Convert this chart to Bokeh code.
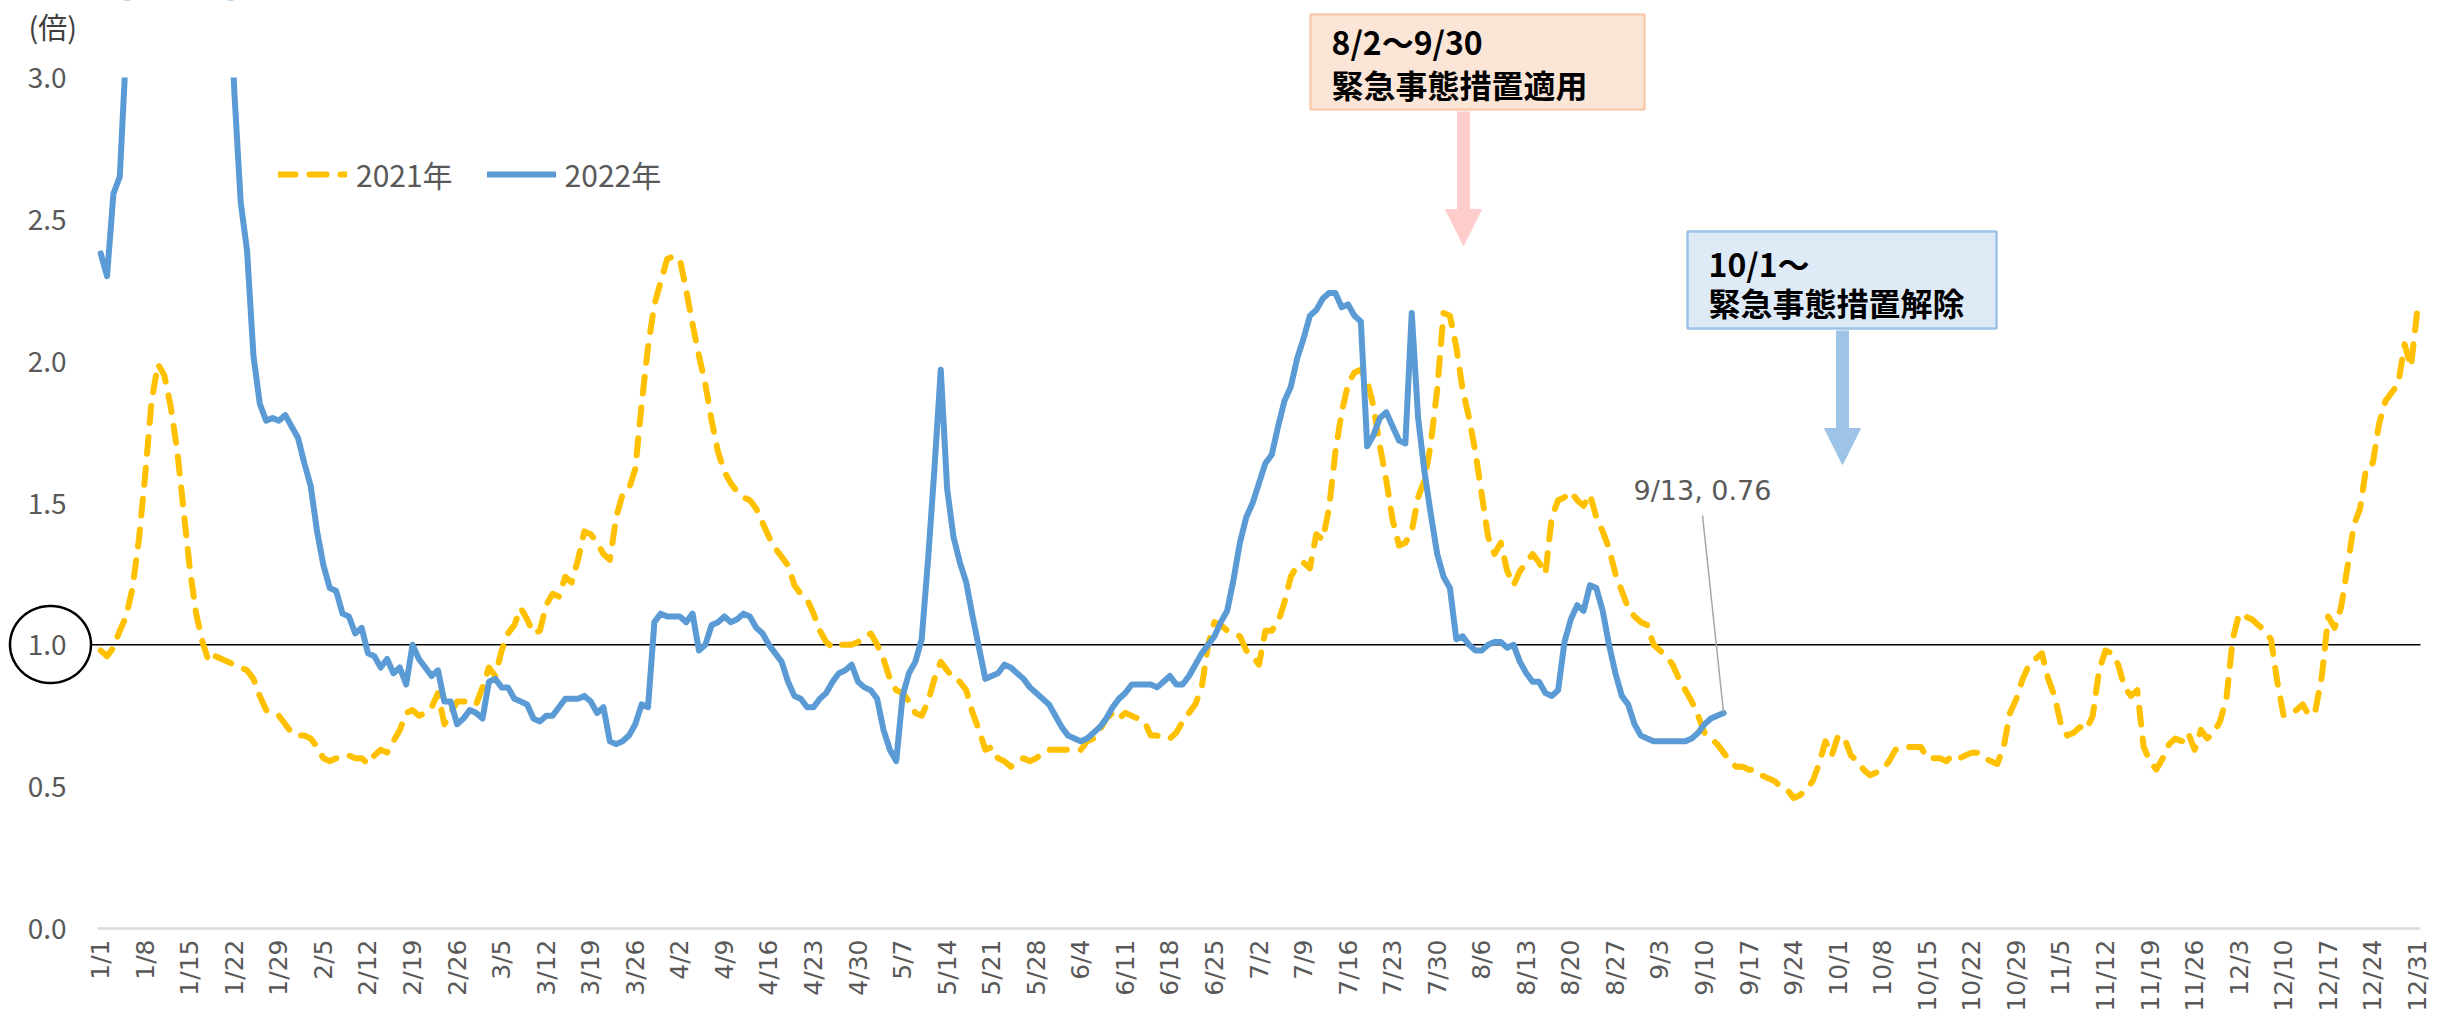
import numpy as np
from bokeh.plotting import figure
from bokeh.models import (ColumnDataSource, Legend, LegendItem, Label, PolyAnnotation, Arrow,
                          NormalHead)
from bokeh.core.properties import value
from bokeh.embed import file_html
from bokeh.resources import INLINE

# ---------------- data ----------------
TICK_LABELS = ["1/1", "1/8", "1/15", "1/22", "1/29", "2/5", "2/12", "2/19", "2/26", "3/5", "3/12",
               "3/19", "3/26", "4/2", "4/9", "4/16", "4/23", "4/30", "5/7", "5/14", "5/21", "5/28",
               "6/4", "6/11", "6/18", "6/25", "7/2", "7/9", "7/16", "7/23", "7/30", "8/6", "8/13",
               "8/20", "8/27", "9/3", "9/10", "9/17", "9/24", "10/1", "10/8", "10/15", "10/22",
               "10/29", "11/5", "11/12", "11/19", "11/26", "12/3", "12/10", "12/17", "12/24", "12/31"]
TICK_DAYS = list(range(0, 365, 7))

Y_TICKS = [0.0, 0.5, 1.0, 1.5, 2.0, 2.5, 3.0]
Y_TICK_LABELS = ["0.0", "0.5", "1.0", "1.5", "2.0", "2.5", "3.0"]

NAN = float("nan")

# 2021 daily values (1/1 .. 12/31)
R2021 = [
    # Jan
    0.98, 0.96, 0.99, 1.05, 1.10, 1.20, 1.37, 1.60, 1.86, 1.99, 1.95, 1.84, 1.69, 1.48, 1.27, 1.11,
    1.01, 0.94, 0.96, 0.95, 0.94, 0.93, 0.92, 0.91, 0.88, 0.82, 0.77, 0.76, 0.75, 0.72, 0.69,
    # Feb
    0.68, 0.68, 0.67, 0.64, 0.60, 0.59, 0.60, 0.60, 0.61, 0.60, 0.60, 0.58, 0.61, 0.63, 0.62, 0.66,
    0.70, 0.76, 0.77, 0.75, 0.76, 0.78, 0.83, 0.72, 0.76, 0.80, 0.80, 0.80,
    # Mar
    0.79, 0.85, 0.92, 0.89, 0.98, 1.04, 1.07, 1.13, 1.09, 1.04, 1.05, 1.14, 1.18, 1.17, 1.24, 1.22,
    1.30, 1.40, 1.39, 1.36, 1.32, 1.30, 1.45, 1.53, 1.55, 1.62, 1.85, 2.05, 2.20, 2.28, 2.36,
    # Apr
    2.37, 2.36, 2.25, 2.13, 2.02, 1.92, 1.79, 1.68, 1.61, 1.57, 1.54, 1.52, 1.51, 1.48, 1.43, 1.38,
    1.34, 1.31, 1.28, 1.21, 1.18, 1.16, 1.11, 1.05, 1.01, 0.99, 1.00, 1.00, 1.00, 1.01,
    # May
    1.03, 1.04, 1.00, 0.95, 0.88, 0.84, 0.83, 0.80, 0.76, 0.75, 0.80, 0.88, 0.94, 0.91, 0.88, 0.87,
    0.84, 0.76, 0.70, 0.63, 0.64, 0.60, 0.59, 0.57, 0.59, 0.60, 0.59, 0.60, 0.62, 0.63, 0.63,
    # Jun
    0.63, 0.63, 0.63, 0.63, 0.66, 0.67, 0.70, 0.74, 0.76, 0.74, 0.76, 0.75, 0.74, 0.73, 0.68, 0.68,
    0.67, 0.67, 0.69, 0.73, 0.76, 0.79, 0.85, 1.00, 1.08, 1.07, 1.05, 1.04, 1.03, 0.98,
    # Jul
    0.96, 0.93, 1.05, 1.05, 1.08, 1.15, 1.24, 1.28, 1.29, 1.27, 1.39, 1.37, 1.48, 1.68, 1.82, 1.92,
    1.96, 1.97, 1.93, 1.84, 1.70, 1.58, 1.44, 1.35, 1.36, 1.40, 1.52, 1.58, 1.71, 1.90, 2.17,
    # Aug
    2.16, 2.05, 1.90, 1.80, 1.68, 1.53, 1.38, 1.32, 1.36, 1.26, 1.21, 1.26, 1.29, 1.32, 1.29, 1.25,
    1.45, 1.51, 1.52, 1.54, 1.51, 1.49, 1.53, 1.45, 1.40, 1.34, 1.25, 1.19, 1.13, 1.10, 1.08,
    # Sep
    1.07, 1.00, 0.98, 0.96, 0.93, 0.88, 0.84, 0.80, 0.75, 0.69, 0.67, 0.65, 0.62, 0.59, 0.57, 0.57,
    0.56, 0.56, 0.54, 0.53, 0.52, 0.50, 0.49, 0.46, 0.47, 0.49, 0.52, 0.58, 0.66, 0.61,
    # Oct
    0.68, 0.67, 0.61, 0.59, 0.56, 0.54, 0.55, 0.56, 0.59, 0.63, 0.64, 0.64, 0.64, 0.64, 0.60, 0.60,
    0.60, 0.59, 0.61, 0.60, 0.61, 0.62, 0.62, 0.60, 0.59, 0.58, 0.64, 0.76, 0.81, 0.88, 0.93,
    # Nov
    0.95, 0.97, 0.88, 0.82, 0.72, 0.68, 0.69, 0.71, 0.70, 0.75, 0.91, 0.98, 0.97, 0.93, 0.85, 0.82,
    0.84, 0.64, 0.59, 0.56, 0.60, 0.65, 0.67, 0.66, 0.69, 0.63, 0.70, 0.67, 0.69, 0.73,
    # Dec
    0.81, 1.02, 1.11, 1.10, 1.09, 1.07, 1.05, 1.02, 0.87, 0.75, 0.76, 0.77, 0.79, 0.75, 0.77, 0.89,
    1.10, 1.06, 1.13, 1.27, 1.42, 1.48, 1.63, 1.64, 1.78, 1.86, 1.89, 1.92, 2.06, 1.98, 2.18,
]

# 2022 daily values (1/1 .. 9/13); values above the 3.0 axis limit could not be read
R2022 = [
    # Jan
    2.38, 2.30, 2.59, 2.65, 3.10, 4.00, NAN, NAN, NAN, NAN, NAN, NAN, NAN, NAN, NAN, NAN,
    NAN, NAN, NAN, NAN, 3.50, 2.95, 2.56, 2.39, 2.02, 1.85, 1.79, 1.80, 1.79, 1.81, 1.77,
    # Feb
    1.73, 1.64, 1.56, 1.40, 1.28, 1.20, 1.19, 1.11, 1.10, 1.04, 1.06, 0.97, 0.96, 0.92, 0.95, 0.90,
    0.92, 0.86, 1.00, 0.95, 0.92, 0.89, 0.91, 0.80, 0.80, 0.72, 0.74, 0.77,
    # Mar
    0.76, 0.74, 0.87, 0.88, 0.85, 0.85, 0.81, 0.80, 0.79, 0.74, 0.73, 0.75, 0.75, 0.78, 0.81, 0.81,
    0.81, 0.82, 0.80, 0.76, 0.78, 0.66, 0.65, 0.66, 0.68, 0.72, 0.79, 0.78, 1.08, 1.11, 1.10,
    # Apr
    1.10, 1.10, 1.08, 1.11, 0.98, 1.00, 1.07, 1.08, 1.10, 1.08, 1.09, 1.11, 1.10, 1.06, 1.04, 1.00,
    0.97, 0.94, 0.87, 0.82, 0.81, 0.78, 0.78, 0.81, 0.83, 0.87, 0.90, 0.91, 0.93, 0.87,
    # May
    0.85, 0.84, 0.81, 0.70, 0.63, 0.59, 0.82, 0.90, 0.94, 1.02, 1.30, 1.62, 1.97, 1.55, 1.38, 1.29,
    1.22, 1.10, 0.99, 0.88, 0.89, 0.90, 0.93, 0.92, 0.90, 0.88, 0.85, 0.83, 0.81, 0.79, 0.75,
    # Jun
    0.71, 0.68, 0.67, 0.66, 0.67, 0.69, 0.71, 0.74, 0.78, 0.81, 0.83, 0.86, 0.86, 0.86, 0.86, 0.85,
    0.87, 0.89, 0.86, 0.86, 0.89, 0.93, 0.97, 1.00, 1.03, 1.08, 1.12, 1.23, 1.36, 1.45,
    # Jul
    1.50, 1.57, 1.64, 1.67, 1.77, 1.86, 1.91, 2.01, 2.08, 2.16, 2.18, 2.22, 2.24, 2.24, 2.19, 2.20,
    2.16, 2.14, 1.70, 1.74, 1.80, 1.82, 1.77, 1.72, 1.71, 2.17, 1.80, 1.61, 1.46, 1.32, 1.24,
    # Aug
    1.20, 1.02, 1.03, 1.00, 0.98, 0.98, 1.00, 1.01, 1.01, 0.99, 1.00, 0.94, 0.90, 0.87, 0.87, 0.83,
    0.82, 0.84, 1.01, 1.09, 1.14, 1.12, 1.21, 1.20, 1.12, 1.00, 0.90, 0.82, 0.79, 0.72, 0.68,
    # Sep
    0.67, 0.66, 0.66, 0.66, 0.66, 0.66, 0.66, 0.67, 0.69, 0.72, 0.74, 0.75, 0.76,
]

SERIES_NAMES = ["2021年", "2022年"]
LAST_LABEL = "9/13, 0.76"
Y_MAX = 3.0

# ---------------- layout (pixel geometry of the page) ----------------
W, H = 2451, 1017
PLOT_L, PLOT_R = 97, 2420      # pixel x of day -0.5 and day 364.5
PY0, PY3 = 928, 77             # pixel y of 0.0 and 3.0
DAYS = 365
PX_DAY = (PLOT_R - PLOT_L) / DAYS
PX_UNIT = (PY0 - PY3) / Y_MAX


def dx(cx):
    return -0.5 + (cx - PLOT_L) / PX_DAY


def dy(cy):
    return (PY0 - cy) / PX_UNIT


GRAY = "#595959"
JP = "Noto Sans CJK JP"

p = figure(width=W, height=H, x_range=(dx(0), dx(W)), y_range=(dy(H), dy(0)),
           x_axis_location=None, y_axis_location=None, min_border=0,
           toolbar_location=None, output_backend="svg")
p.outline_line_color = None
p.background_fill_color = "white"
p.border_fill_color = "white"
p.xgrid.visible = False
p.ygrid.visible = False

# value axis line (0.0) and reference line (1.0)
p.segment(x0=[-0.5], y0=[0.0], x1=[DAYS - 0.5], y1=[0.0], line_color="#D9D9D9", line_width=2.5)
p.segment(x0=[dx(91)], y0=[1.0], x1=[DAYS - 0.5], y1=[1.0], line_color="#000000", line_width=1.5)

# series
src21 = ColumnDataSource(dict(x=np.arange(len(R2021)), y=np.array(R2021, dtype=float)))
src22 = ColumnDataSource(dict(x=np.arange(len(R2022)), y=np.array(R2022, dtype=float)))
r21 = p.line("x", "y", source=src21, line_color="#FFC000", line_width=6, line_dash="17 14",
             line_cap="round", line_join="round")
r22 = p.line("x", "y", source=src22, line_color="#5B9BD5", line_width=6,
             line_cap="round", line_join="round")

# the value axis ends at 3.0: hide anything drawn above it
p.quad(left=[dx(0)], right=[dx(W)], bottom=[Y_MAX], top=[dy(0)], fill_color="white",
       line_color=None)

# date tick labels (rotated, reading upwards, ending just below the axis line)
p.text(x=TICK_DAYS, y=[dy(939)] * len(TICK_DAYS), text=TICK_LABELS, angle=np.pi / 2,
       text_align="right", text_baseline="middle", text_font=value("DejaVu Sans"),
       text_font_size="25px", text_color=GRAY)

# value tick labels
p.text(x=[dx(66)] * len(Y_TICKS), y=Y_TICKS, text=Y_TICK_LABELS, text_align="right",
       text_baseline="middle", text_font=value(JP), text_font_size="28px", text_color=GRAY)
# unit label
p.text(x=[dx(28)], y=[dy(25)], text=["(倍)"], text_align="left", text_baseline="middle",
       text_font=value(JP), text_font_size="29px", text_color="#404040")

# circle around the 1.0 label
t = np.linspace(0, 2 * np.pi, 121)
p.add_layout(PolyAnnotation(xs=list(dx(50 + 40.5 * np.cos(t))), ys=list(dy(644 + 38.5 * np.sin(t))),
                            fill_color=None, fill_alpha=0, line_color="#000000", line_alpha=1,
                            line_width=2.5))

legend = Legend(items=[LegendItem(label=SERIES_NAMES[0], renderers=[r21]),
                       LegendItem(label=SERIES_NAMES[1], renderers=[r22])],
                orientation="horizontal", location=(278, H - 196), padding=0, margin=0,
                spacing=34, glyph_width=69, glyph_height=30, label_height=30, label_standoff=9,
                label_text_font=JP, label_text_font_size="30px",
                label_text_color=GRAY, border_line_color=None, background_fill_alpha=0)
p.add_layout(legend)

# last-point data label with leader line
last_day = len(R2022) - 1
last_val = R2022[-1]
p.segment(x0=[dx(1702)], y0=[dy(515)], x1=[last_day], y1=[last_val],
          line_color="#A6A6A6", line_width=1.5)
p.add_layout(Label(x=dx(1633), y=dy(490), text=LAST_LABEL, text_font="DejaVu Sans",
                   text_font_size="27px", text_color=GRAY, text_baseline="middle"))


def callout(box, lines, text_x, text_ys, fill, edge, arrow_x, arrow_y0, arrow_y1, arrow_color):
    l, t_, r, b = box
    p.add_layout(PolyAnnotation(xs=[dx(l), dx(r), dx(r), dx(l)], ys=[dy(t_), dy(t_), dy(b), dy(b)],
                                fill_color=fill, fill_alpha=1, line_color=edge, line_alpha=1,
                                line_width=2.5))
    for s, ty in zip(lines, text_ys):
        p.add_layout(Label(x=dx(text_x), y=dy(ty), text=s, text_font=JP, text_font_size="32px",
                           text_font_style="bold", text_color="#000000", text_baseline="middle"))
    p.add_layout(Arrow(x_start=dx(arrow_x), y_start=dy(arrow_y0), x_end=dx(arrow_x), y_end=dy(arrow_y1),
                       line_color=arrow_color, line_width=13,
                       end=NormalHead(size=36, fill_color=arrow_color, line_color=arrow_color,
                                      line_width=1)))


callout((1310, 14, 1644, 109), ["8/2～9/30", "緊急事態措置適用"], 1331, [40, 83],
        "#FBE5D6", "#F8CBAD", 1463, 111, 245, "#FFCCCC")
callout((1687, 231, 1996, 328), ["10/1～", "緊急事態措置解除"], 1708, [262, 301],
        "#DEEBF7", "#9DC3E6", 1842, 330, 464, "#9DC3E6")

open("out.html", "w").write(file_html(p, INLINE))
